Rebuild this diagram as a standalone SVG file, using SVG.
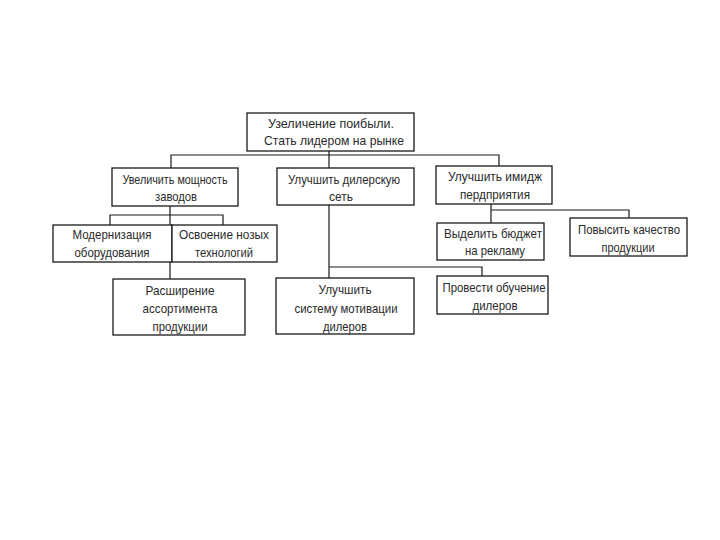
<svg xmlns="http://www.w3.org/2000/svg" width="720" height="540" viewBox="0 0 720 540">
<style>
.box{fill:#fff;stroke:#1a1a1a;stroke-width:1.3}
.ln{fill:none;stroke:#1a1a1a;stroke-width:1.2}
text{font-family:"Liberation Sans",Arial,sans-serif;font-size:13px;fill:#2a2a2a;text-anchor:middle}
</style>
<rect width="720" height="540" fill="#fff"/>
<g id="connectors">
<path class="ln" d="M329 151V168"/>
<path class="ln" d="M171 168V155H499V166"/>
<path class="ln" d="M170 206V279"/>
<path class="ln" d="M110 225V215H223V225"/>
<path class="ln" d="M329 205V278"/>
<path class="ln" d="M329 267H482V276"/>
<path class="ln" d="M491 204V223"/>
<path class="ln" d="M491 210H629V218"/>
</g>
<g id="n0"><rect class="box" x="247" y="113" width="167" height="38"/>
<text x="331" y="128" textLength="126" lengthAdjust="spacingAndGlyphs">Узеличение поибыли.</text>
<text x="334" y="145" textLength="140" lengthAdjust="spacingAndGlyphs">Стать лидером на рынке</text></g>
<g id="n1"><rect class="box" x="112" y="168" width="126" height="38"/>
<text x="175" y="184" textLength="105" lengthAdjust="spacingAndGlyphs">Увеличить мощность</text>
<text x="176" y="201" textLength="42" lengthAdjust="spacingAndGlyphs">заводов</text></g>
<g id="n2"><rect class="box" x="277" y="168" width="137" height="37"/>
<text x="344" y="184" textLength="112" lengthAdjust="spacingAndGlyphs">Улучшить дилерскую</text>
<text x="341" y="201" textLength="24" lengthAdjust="spacingAndGlyphs">сеть</text></g>
<g id="n3"><rect class="box" x="436" y="166" width="116" height="38"/>
<text x="495" y="181" textLength="94" lengthAdjust="spacingAndGlyphs">Улучшить имидж</text>
<text x="495" y="199" textLength="70" lengthAdjust="spacingAndGlyphs">пердприятия</text></g>
<g id="n4"><rect class="box" x="53" y="225" width="119" height="37"/>
<text x="112" y="239" textLength="79" lengthAdjust="spacingAndGlyphs">Модернизация</text>
<text x="112" y="257" textLength="75" lengthAdjust="spacingAndGlyphs">оборудования</text></g>
<g id="n5"><rect class="box" x="172" y="225" width="105" height="37"/>
<text x="224" y="239" textLength="90" lengthAdjust="spacingAndGlyphs">Освоение нозых</text>
<text x="224" y="257" textLength="58" lengthAdjust="spacingAndGlyphs">технологий</text></g>
<g id="n6"><rect class="box" x="113" y="279" width="132" height="56"/>
<text x="180" y="295" textLength="69" lengthAdjust="spacingAndGlyphs">Расширение</text>
<text x="180" y="313" textLength="75" lengthAdjust="spacingAndGlyphs">ассортимента</text>
<text x="180" y="331" textLength="55" lengthAdjust="spacingAndGlyphs">продукции</text></g>
<g id="n7"><rect class="box" x="276" y="278" width="138" height="56"/>
<text x="345" y="294" textLength="53" lengthAdjust="spacingAndGlyphs">Улучшить</text>
<text x="346" y="313" textLength="103" lengthAdjust="spacingAndGlyphs">систему мотивации</text>
<text x="345" y="331" textLength="44" lengthAdjust="spacingAndGlyphs">дилеров</text></g>
<g id="n8"><rect class="box" x="437" y="276" width="111" height="38"/>
<text x="494" y="292" textLength="103" lengthAdjust="spacingAndGlyphs">Провести обучение</text>
<text x="495" y="310" textLength="45" lengthAdjust="spacingAndGlyphs">дилеров</text></g>
<g id="n9"><rect class="box" x="437" y="223" width="107" height="37"/>
<text x="493" y="238" textLength="98" lengthAdjust="spacingAndGlyphs">Выделить бюджет</text>
<text x="495" y="255" textLength="60" lengthAdjust="spacingAndGlyphs">на рекламу</text></g>
<g id="n10"><rect class="box" x="570" y="218" width="117" height="38"/>
<text x="629" y="234" textLength="102" lengthAdjust="spacingAndGlyphs">Повысить качество</text>
<text x="628" y="252" textLength="53" lengthAdjust="spacingAndGlyphs">продукции</text></g>
</svg>
